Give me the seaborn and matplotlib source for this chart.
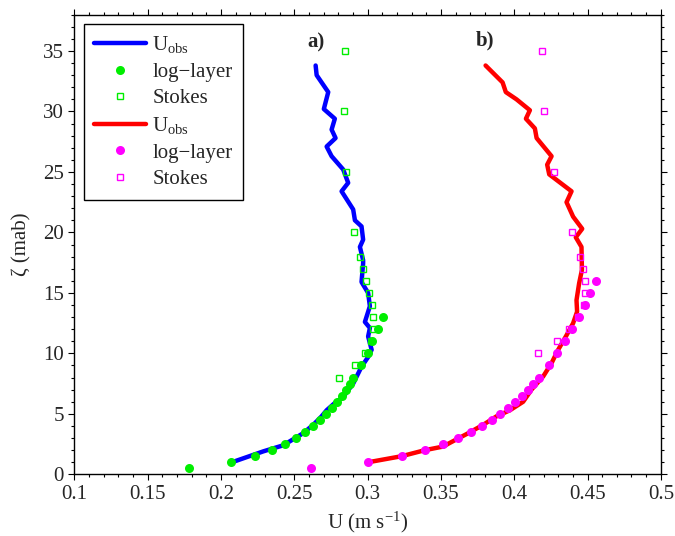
import matplotlib
matplotlib.use("Agg")
import matplotlib.pyplot as plt
from matplotlib.ticker import MultipleLocator, FixedLocator, FixedFormatter
import seaborn as sns

# ---- panel a) observed profile and fits ----
z_obs_a = [33.8, 33.0, 31.6, 30.2, 29.4, 28.5, 27.8, 27.1, 26.3, 25.2, 24.1, 23.4,
           21.9, 21.0, 20.5, 19.4, 18.8, 17.7, 17.45, 15.9, 15.0, 13.9, 12.6, 12.1,
           11.4, 10.3, 9.7, 8.9, 7.5, 6.4, 5.9, 5.3, 4.8, 4.1, 3.4, 2.4, 1.9, 0.96]
u_obs_a = [0.2646, 0.2653, 0.2732, 0.2702, 0.2777, 0.2755, 0.2782, 0.2721, 0.2755,
           0.2834, 0.2868, 0.2823, 0.2902, 0.2914, 0.2959, 0.2970, 0.2948, 0.2970,
           0.2970, 0.2959, 0.3004, 0.3016, 0.2982, 0.3016, 0.3004, 0.3028, 0.3004,
           0.2959, 0.2902, 0.2834, 0.2777, 0.2721, 0.2687, 0.2630, 0.2561, 0.2425,
           0.2289, 0.2066]

z_log_a = [0.5, 1.0, 1.5, 2.0, 2.5, 3.0, 3.5, 4.0, 4.5, 5.0, 5.5, 6.0, 6.5, 7.0,
           7.5, 8.0, 9.0, 10.0, 11.0, 12.0, 13.0]
u_log_a = [0.1784, 0.2066, 0.2232, 0.2346, 0.2437, 0.2512, 0.2573, 0.2625, 0.2675,
           0.2714, 0.2755, 0.2789, 0.2823, 0.2852, 0.2880, 0.2904, 0.2955, 0.3000,
           0.3030, 0.3070, 0.3103]

z_stk_a = [35, 30, 25, 20, 18, 17, 16, 15, 14, 13, 12, 11, 10, 9, 8]
u_stk_a = [0.2846, 0.2841, 0.2850, 0.2905, 0.2946, 0.2968, 0.2991, 0.3011, 0.3029,
           0.3039, 0.3039, 0.3025, 0.2985, 0.2914, 0.2807]

# ---- panel b) observed profile and fits ----
z_obs_b = [33.8, 32.4, 31.6, 31.0, 30.1, 29.4, 28.6, 27.8, 26.3, 25.6, 24.8, 23.4,
           22.5, 21.3, 20.3, 19.6, 18.8, 16.9, 15.8, 14.4, 13.45, 12.5, 11.5, 10.3,
           9.2, 8.1, 7.0, 6.0, 5.3, 4.8, 4.1, 3.4, 2.6, 2.3, 2.0, 1.5, 1.0]
u_obs_b = [0.3805, 0.3921, 0.3943, 0.4016, 0.4107, 0.4080, 0.4141, 0.4153, 0.4255,
           0.4225, 0.4239, 0.4391, 0.4357, 0.4402, 0.4464, 0.4420, 0.4459, 0.4462,
           0.4443, 0.4425, 0.4429, 0.4402, 0.4357, 0.4300, 0.4255, 0.4198, 0.4118,
           0.4061, 0.3971, 0.3880, 0.3789, 0.3686, 0.3561, 0.3516, 0.3391, 0.3232,
           0.3004]

z_log_b = [0.5, 1.0, 1.5, 2.0, 2.5, 3.0, 3.5, 4.0, 4.5, 5.0, 5.5, 6.0, 6.5, 7.0,
           7.5, 8.0, 9.0, 10.0, 11.0, 12.0, 13.0, 14.0, 15.0, 16.0]
u_log_b = [0.2614, 0.3004, 0.3232, 0.3391, 0.3516, 0.3618, 0.3705, 0.3780, 0.3846,
           0.3902, 0.3957, 0.4005, 0.4052, 0.4093, 0.4129, 0.4166, 0.4235, 0.4293,
           0.4346, 0.4391, 0.4443, 0.4484, 0.4520, 0.4557]

z_stk_b = [35, 30, 25, 20, 18, 17, 16, 15, 14, 13, 12, 11, 10]
u_stk_b = [0.4189, 0.4204, 0.4273, 0.4395, 0.4447, 0.4466, 0.4482, 0.4482, 0.4477,
           0.4436, 0.4375, 0.4289, 0.4164]

x_ticks = [0.1, 0.15, 0.2, 0.25, 0.3, 0.35, 0.4, 0.45, 0.5]
x_tick_labels = ["0.1", "0.15", "0.2", "0.25", "0.3", "0.35", "0.4", "0.45", "0.5"]
y_ticks = [0, 5, 10, 15, 20, 25, 30, 35]

sns.set_style("ticks")
plt.rcParams["font.family"] = ["Liberation Serif", "DejaVu Serif"]
plt.rcParams["mathtext.fontset"] = "custom"
plt.rcParams["mathtext.rm"] = "Liberation Serif"
plt.rcParams["mathtext.it"] = "Liberation Serif:italic"
plt.rcParams["axes.unicode_minus"] = False

fig = plt.figure(figsize=(6.75, 5.36), dpi=100)
ax = fig.add_axes([0.110, 0.115, 0.869, 0.8576])

line_kw = dict(sort=False, estimator=None, linewidth=3.2)
dot_kw = dict(sort=False, estimator=None, linestyle="", marker="o",
              markersize=6.5, markeredgewidth=0)
sq_kw = dict(sort=False, estimator=None, linestyle="", marker="s",
             markersize=5, markerfacecolor="none", markeredgewidth=1.0)

sns.lineplot(x=u_obs_a, y=z_obs_a, color="#0000ff", label=r"U$_{\rm obs}$", ax=ax, **line_kw)
sns.lineplot(x=u_log_a, y=z_log_a, color="#00ee00", markeredgecolor="#00ee00",
             label="log\u2212layer", ax=ax, **dot_kw)
sns.lineplot(x=u_stk_a, y=z_stk_a, color="#00ee00", markeredgecolor="#00ee00",
             label="Stokes", ax=ax, **sq_kw)
sns.lineplot(x=u_obs_b, y=z_obs_b, color="#ff0000", label=r"U$_{\rm obs}$", ax=ax, **line_kw)
sns.lineplot(x=u_log_b, y=z_log_b, color="#ff00ff", markeredgecolor="#ff00ff",
             label="log\u2212layer", ax=ax, **dot_kw)
sns.lineplot(x=u_stk_b, y=z_stk_b, color="#ff00ff", markeredgecolor="#ff00ff",
             label="Stokes", ax=ax, **sq_kw)

ax.set_xlim(0.1, 0.5)
ax.set_ylim(0, 38)
ax.xaxis.set_major_locator(FixedLocator(x_ticks))
ax.xaxis.set_major_formatter(FixedFormatter(x_tick_labels))
ax.xaxis.set_minor_locator(MultipleLocator(0.01))
ax.yaxis.set_major_locator(FixedLocator(y_ticks))
ax.yaxis.set_minor_locator(MultipleLocator(1))
ax.tick_params(which="both", direction="out", top=True, right=True,
               labelsize=15, color="black", width=0.8)
ax.tick_params(which="major", length=4)
ax.tick_params(which="minor", length=2.5)
for sp in ax.spines.values():
    sp.set_visible(True)
    sp.set_color("black")
    sp.set_linewidth(1.0)

ax.set_xlabel(r"U (m s$^{-1}$)", fontsize=15, labelpad=4)
ax.set_ylabel("\u03b6 (mab)", fontsize=15, labelpad=8)

ax.text(0.259, 35.7, "a)", fontsize=15, fontweight="bold", ha="left", va="center")
ax.text(0.374, 35.85, "b)", fontsize=15, fontweight="bold", ha="left", va="center")

leg = ax.legend(loc="upper left", fontsize=15, frameon=True, fancybox=False,
                edgecolor="black", framealpha=1, handlelength=2.5,
                handletextpad=0.3, borderaxespad=0.45, labelspacing=0.33,
                borderpad=0.5)
leg.get_frame().set_linewidth(1.0)

fig.savefig("out.png", dpi=100)
